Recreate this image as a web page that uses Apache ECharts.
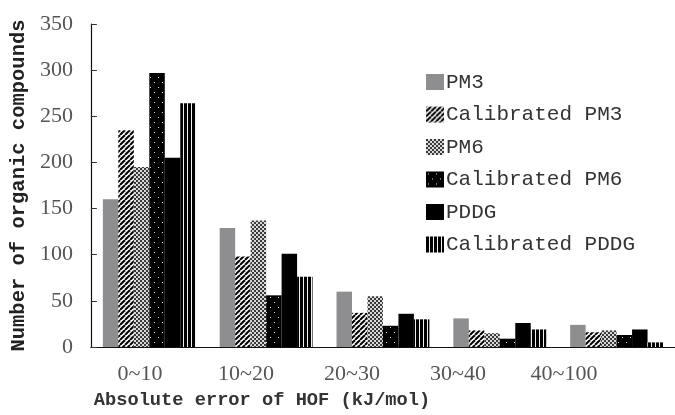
<!DOCTYPE html>
<html>
<head>
<meta charset="utf-8">
<script src="https://cdn.jsdelivr.net/npm/echarts@6/dist/echarts.min.js"></script>
<style>
html,body{margin:0;padding:0;background:#fff;}
#main{width:675px;height:415px;}
</style>
</head>
<body>
<div id="main"></div>
<script>
// ---- data ----
const categories = ['0~10', '10~20', '20~30', '30~40', '40~100'];
const seriesNames = ['PM3', 'Calibrated PM3', 'PM6', 'Calibrated PM6', 'PDDG', 'Calibrated PDDG'];
const pm3 = [160, 129, 60, 31, 24];
const calPm3 = [235, 98, 37, 18, 16];
const pm6 = [195, 137, 55, 15, 18];
const calPm6 = [297, 56, 23, 9, 13];
const pddg = [205, 101, 36, 26, 19];
const calPddg = [264, 76, 30, 19, 5];
const yTicks = [0, 50, 100, 150, 200, 250, 300, 350];

// ---- patterns ----
function tile(w, h, draw) {
  const c = document.createElement('canvas');
  c.width = w; c.height = h;
  const ctx = c.getContext('2d');
  draw(ctx, w, h);
  return { image: c, repeat: 'repeat' };
}
const fillPM3 = '#8e8e91';
const fillCalPM3 = tile(5, 5, (ctx, w, h) => {
  ctx.fillStyle = '#ffffff'; ctx.fillRect(0, 0, w, h);
  ctx.strokeStyle = '#000'; ctx.lineWidth = 2;
  for (let k = -1; k <= 1; k++) {
    ctx.beginPath(); ctx.moveTo(k * w, h); ctx.lineTo(k * w + w, 0); ctx.stroke();
  }
});
const fillPM6 = tile(4, 4, (ctx, w, h) => {
  ctx.fillStyle = '#d8d8d8'; ctx.fillRect(0, 0, w, h);
  ctx.fillStyle = '#3a3a3a'; ctx.fillRect(0, 0, 2, 2); ctx.fillRect(2, 2, 2, 2);
});
const fillCalPM6 = tile(8, 10, (ctx, w, h) => {
  ctx.fillStyle = '#000'; ctx.fillRect(0, 0, w, h);
  ctx.fillStyle = '#e0e0e0'; ctx.fillRect(2, 2, 1, 1); ctx.fillRect(6, 7, 1, 1);
});
const fillPDDG = '#000000';
const fillCalPDDG = tile(4, 4, (ctx, w, h) => {
  ctx.fillStyle = '#f0f0f0'; ctx.fillRect(0, 0, w, h);
  ctx.fillStyle = '#000'; ctx.fillRect(0, 0, 3, h);
});
const fills = [fillPM3, fillCalPM3, fillPM6, fillCalPM6, fillPDDG, fillCalPDDG];
const values = [pm3, calPm3, pm6, calPm6, pddg, calPddg];

const chart = echarts.init(document.getElementById('main'), null, { renderer: 'canvas' });
const monoFont = '"Liberation Mono", monospace';
const serifFont = '"Liberation Serif", "Times New Roman", serif';

chart.setOption({
  animation: false,
  backgroundColor: '#ffffff',
  legend: {
    orient: 'vertical',
    left: 421,
    top: 66,
    itemWidth: 18,
    itemHeight: 16,
    itemGap: 10.5,
    icon: 'rect',
    data: seriesNames,
    textStyle: { fontFamily: monoFont, fontSize: 21, color: '#333', lineHeight: 22, padding: [0, 0, 0, -3] }
  },
  grid: [
    { left: 90, top: 24, width: 592, bottom: 68, containLabel: false },
    { left: 87, top: 24, width: 530, bottom: 68, containLabel: false }
  ],
  xAxis: [
    {
      type: 'category', gridIndex: 0, data: categories,
      axisLine: { lineStyle: { color: '#111', width: 1.2 } },
      axisTick: { inside: true, length: 7, lineStyle: { color: '#777' } },
      axisLabel: { show: false }
    },
    {
      type: 'category', gridIndex: 1, data: categories,
      axisLine: { show: false }, axisTick: { show: false },
      axisLabel: { fontFamily: serifFont, fontSize: 22, color: '#555', margin: 22 },
      name: 'Absolute error of HOF (kJ/mol)',
      nameLocation: 'middle', nameGap: 50,
      nameTextStyle: { fontFamily: monoFont, fontSize: 18.7, fontWeight: 'bold', color: '#333', padding: [0, 180, 0, 0] }
    }
  ],
  yAxis: [
    {
      type: 'value', gridIndex: 0, min: 0, max: 350, interval: 50,
      axisLine: { show: true, lineStyle: { color: '#111', width: 1.2 } },
      axisTick: { show: true, inside: true, length: 6, lineStyle: { color: '#333' } },
      splitLine: { show: false },
      axisLabel: { fontFamily: serifFont, fontSize: 22, color: '#555', margin: 18,
        formatter: v => yTicks.includes(v) ? String(v) : '' },
      name: 'Number of organic compounds',
      nameLocation: 'middle', nameGap: 60, nameRotate: 90,
      nameTextStyle: { fontFamily: monoFont, fontSize: 20.5, fontWeight: 'bold', color: '#222' }
    },
    { type: 'value', gridIndex: 1, show: false, min: 0, max: 350 }
  ],
  series: seriesNames.map((name, i) => ({
    name: name,
    type: 'bar',
    xAxisIndex: 0, yAxisIndex: 0,
    data: values[i],
    barGap: '0%',
    barCategoryGap: '20.5%',
    itemStyle: { color: fills[i] }
  }))
});
</script>
</body>
</html>
